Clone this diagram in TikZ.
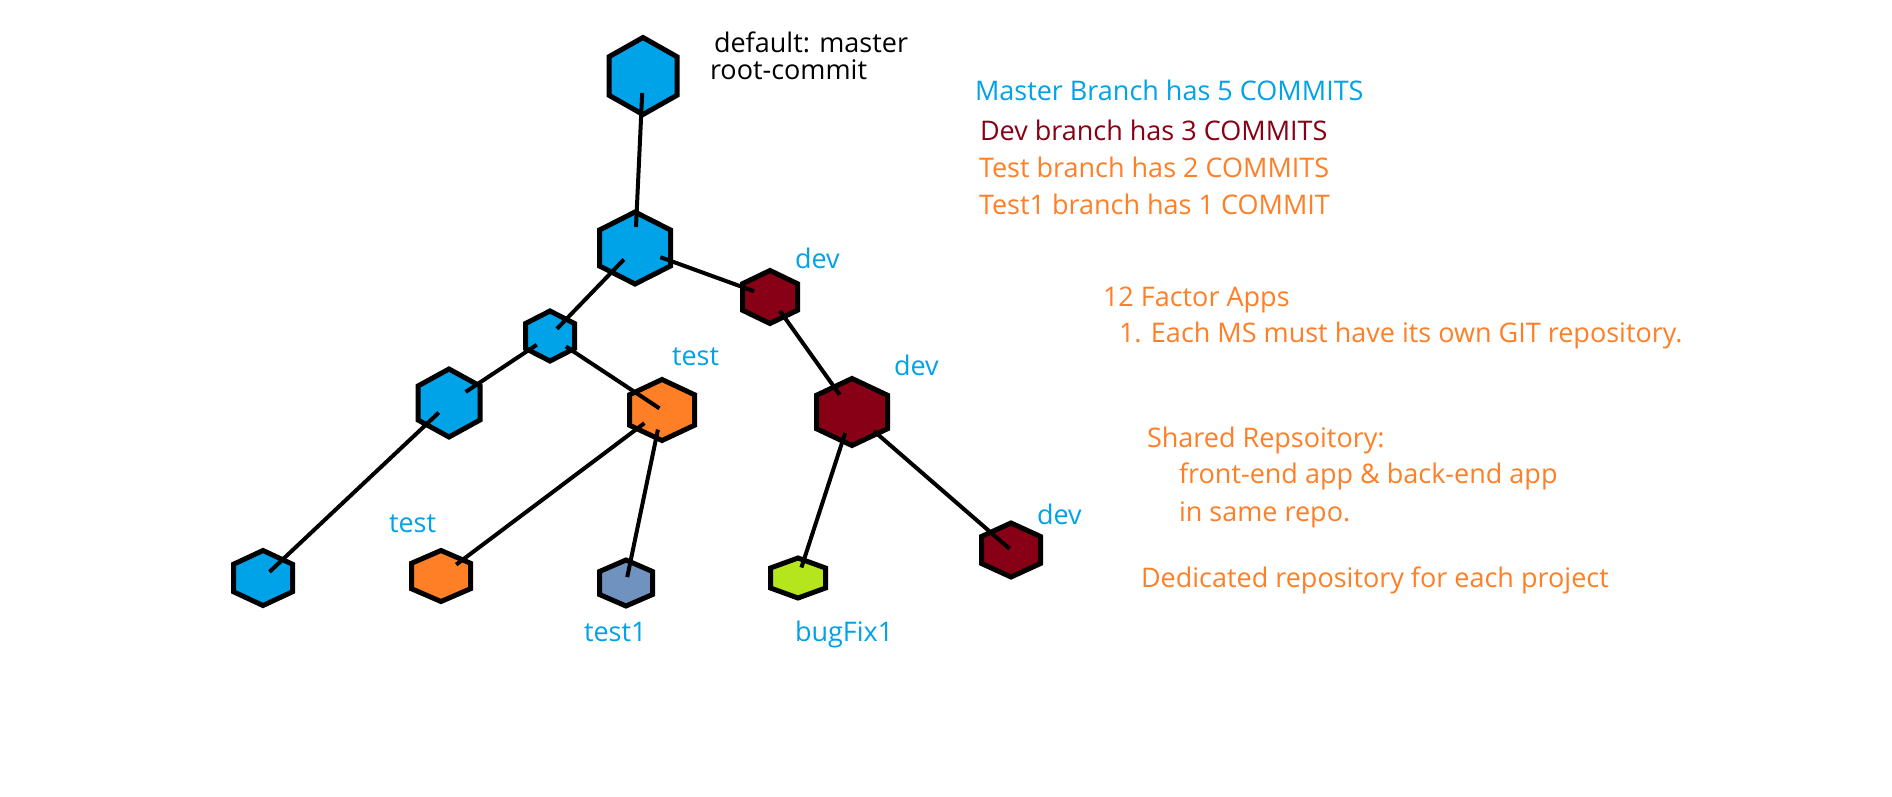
\documentclass[tikz,border=0pt]{standalone}
\usepackage{fontspec}
\setmainfont{Open Sans}
\usetikzlibrary{calc}

\definecolor{mblue}{HTML}{00A2E8}
\definecolor{dred}{HTML}{880015}
\definecolor{torange}{HTML}{FF7F27}
\definecolor{slate}{HTML}{7092BE}
\definecolor{fixgreen}{HTML}{B5E61D}

\begin{document}
\begin{tikzpicture}[x=1pt, y=-1pt, line width=4pt,
	commit/.style 2 args={inner sep=0pt, outer sep=0pt, minimum width=#1, minimum height=#2},
	link/.style 2 args={shorten <=#1, shorten >=#2},
	note/.style={font=\fontsize{27}{32}\selectfont, anchor=base west, inner sep=0pt},
	tag/.style={note, text=mblue}]
	\fill[white] (0,0) rectangle (1892,797);
	\useasboundingbox (0,0) rectangle (1892,797);

	% commits
	\node[commit={68pt}{77pt}] (root) at (643,76) {};
	\node[commit={71pt}{72pt}] (m2) at (635,248) {};
	\node[commit={49pt}{50pt}] (m3) at (550,336) {};
	\node[commit={62pt}{68pt}] (m4) at (449,403) {};
	\node[commit={59pt}{55pt}] (m5) at (263,578) {};
	\node[commit={65pt}{61pt}] (t1) at (662,410) {};
	\node[commit={59pt}{51pt}] (t2) at (441,576) {};
	\node[commit={53pt}{46pt}] (tt) at (626,583) {};
	\node[commit={55pt}{53pt}] (d1) at (770,297) {};
	\node[commit={71pt}{67pt}] (d2) at (852,412) {};
	\node[commit={59pt}{54pt}] (d3) at (1011,550) {};
	\node[commit={55pt}{40pt}] (fix) at (798,578) {};

	\foreach \n/\c in {root/mblue, m2/mblue, m3/mblue, m4/mblue, m5/mblue, t1/torange, t2/torange,
		tt/slate, d1/dred, d2/dred, d3/dred, fix/fixgreen}
		\filldraw[fill=\c, line width=5pt]
		(\n.north) -- ($(\n.north east)!.25!(\n.south east)$) -- ($(\n.north east)!.75!(\n.south east)$)
		-- (\n.south) -- ($(\n.north west)!.75!(\n.south west)$) -- ($(\n.north west)!.25!(\n.south west)$) -- cycle;

	\draw[link={17pt}{21pt}] (root.center) -- (m2.center);
	\draw[link={27pt}{17pt}] (m2.center) -- (d1.center);
	\draw[link={16pt}{10pt}] (m2.center) -- (m3.center);
	\draw[link={16pt}{20pt}] (m3.center) -- (m4.center);
	\draw[link={14pt}{9pt}] (m4.center) -- (m5.center);
	\draw[link={19pt}{3pt}] (m3.center) -- (t1.center);
	\draw[link={22pt}{19pt}] (t1.center) -- (t2.center);
	\draw[link={20pt}{6pt}] (t1.center) -- (tt.center);
	\draw[link={17pt}{21pt}] (d1.center) -- (d2.center);
	\draw[link={22pt}{11pt}] (d2.center) -- (fix.center);
	\draw[link={29pt}{2pt}] (d2.center) -- (d3.center);

	% branch labels
	\node[tag] (devA) at (793,268) {dev};
	\node[tag] (testA) at (670,365) {test};
	\node[tag] (devB) at (892,375) {dev};
	\node[tag] (testB) at (387,532) {test};
	\node[tag] (devC) at (1035,524) {dev};
	\node[tag] (test1) at (582,641) {test1};
	\node[tag] (bugfix) at (793,641) {bugFix1};

	% notes
	\node[note] (dflt) at (712,53) {default: master};
	\node[note] (rootc) at (708,80) {root-commit};
	\node[note, text=mblue] (nmaster) at (973,101) {Master Branch has 5 COMMITS};
	\node[note, text=dred] (ndev) at (978,141) {Dev branch has 3 COMMITS};
	\node[note, text=torange] (ntest) at (977,177) {Test branch has 2 COMMITS};
	\node[note, text=torange] (ntest1) at (977,214) {Test1 branch has 1 COMMIT};
	\node[note, text=torange] (fac) at (1101,306) {12 Factor Apps};
	\node[note, text=torange] (fac1) at (1117,342) {1. Each MS must have its own GIT repository.};
	\node[note, text=torange] (shr) at (1145,447) {Shared Repsoitory:};
	\node[note, text=torange] (shr1) at (1177,483) {front-end app \& back-end app};
	\node[note, text=torange] (shr2) at (1177,521) {in same repo.};
	\node[note, text=torange] (ded) at (1139,587) {Dedicated repository for each project};
\end{tikzpicture}
\end{document}
